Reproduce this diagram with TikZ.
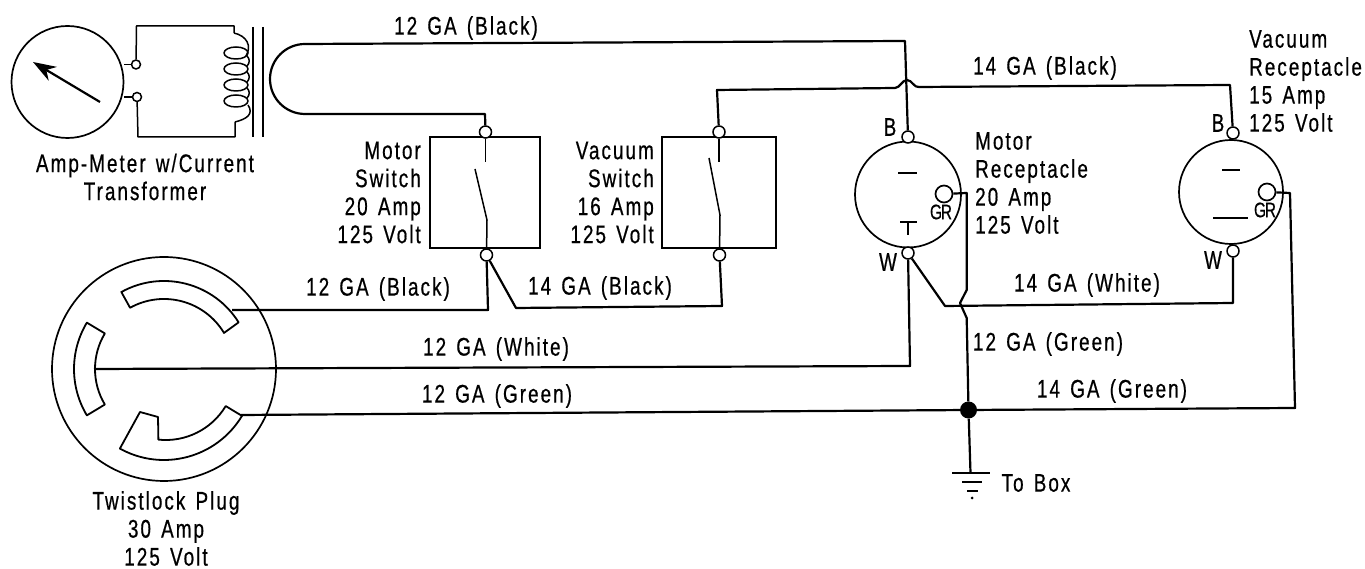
\documentclass[tikz,border=0pt]{standalone}
\usepackage{fontspec}
\setmainfont{Liberation Sans}[FakeStretch=0.74,LetterSpace=8,WordSpace=1.4,FakeBold=0.6]
\usepackage{xcolor}
\usetikzlibrary{arrows.meta}

\tikzset{
    every node/.style={inner sep=0pt, font=\fontsize{25.5}{28}\selectfont},
    wire/.style={line width=2.2pt, line join=round},
    thinwire/.style={line width=1.5pt, line join=round},
    terminal/.style={circle, draw, fill=white, line width=1.5pt, minimum size=12pt},
    smallterminal/.style={terminal, minimum size=9pt},
    switchbox/.style={draw, line width=2.2pt, minimum height=111pt},
    receptacle/.style={circle, draw, line width=1.7pt},
    groundpin/.style={circle, draw, fill=white, line width=1.7pt, minimum size=17pt},
    grlabel/.style={font=\fontsize{21}{21}\selectfont\addfontfeatures{LetterSpace=-6}},
    slot/.style={line width=1.8pt, line join=round}
}

\begin{document}
\begin{tikzpicture}[x=1pt, y=1pt]
    \useasboundingbox (0,0) rectangle (1365,569);

    % Amp meter
    \node[receptacle, minimum size=112pt] (meter) at (67.5,487) {};
    \coordinate (needletail) at (100,467);
    \coordinate (needletip) at (33,507);
    \draw[line width=2.2pt, -{Stealth[length=23pt, width=16pt]}] (needletail) -- (needletip);
    \node[smallterminal] (ta) at (136,504.5) {};
    \node[smallterminal] (tb) at (137,472) {};
    \draw[thinwire] (meter.east |- ta) -- (ta);
    \draw[thinwire] (meter.east |- tb) -- (tb);

    % Current transformer
    \coordinate (ctop) at (234,536);
    \coordinate (cbot) at (235,447);
    \draw[thinwire] (ta) -- (136.5,543) -- (234,543) -- (ctop);
    \draw[thinwire] (tb) -- (138,432) -- (235,432) -- (cbot);
    \foreach \yc in {516,500,484,468} {
        \draw[thinwire] (236,\yc) ellipse (12 and 6);
    }
    \draw[thinwire] (ctop) .. controls (247,533) and (252,523) .. (246,513);
    \foreach \yc in {516,500,484} {
        \draw[thinwire] (247,\yc-3) .. controls (250,\yc-6) and (250,\yc-10) .. (247,\yc-13);
    }
    \draw[thinwire] (cbot) .. controls (247,450) and (254,455) .. (248,464);
    \draw[thinwire] (253,542) -- (253,432);
    \draw[thinwire] (263,542) -- (263,432);
    \node[align=center] (metertext) at (145,392) {Amp-Meter w/Current\\Transformer};

    % Motor switch
    \node[switchbox, minimum width=110pt] (swm) at (485,376.5) {};
    \node[terminal] (swmtop) at (485.5,437) {};
    \node[terminal] (swmbot) at (486.5,314) {};
    \draw[thinwire] (swmtop) -- (485.5,407);
    \draw[thinwire] (475,400) -- (487,349) -- (swmbot);
    \node[align=right, anchor=east] (swmtext) at (421,376.5) {Motor\\Switch\\20 Amp\\125 Volt};

    % Vacuum switch
    \node[switchbox, minimum width=114pt] (swv) at (719,376.5) {};
    \node[terminal] (swvtop) at (719,437) {};
    \node[terminal] (swvbot) at (719.5,314) {};
    \draw[thinwire] (swvtop) -- (719,407);
    \draw[thinwire] (709,411) -- (720,354) -- (swvbot);
    \node[align=right, anchor=east] (swvtext) at (654,376.5) {Vacuum\\Switch\\16 Amp\\125 Volt};

    % Motor receptacle
    \node[receptacle, minimum size=106pt] (rm) at (908,374.5) {};
    \node[terminal] (rmb) at (908,432) {};
    \node[terminal] (rmw) at (908,316) {};
    \node[groundpin] (rmg) at (944,375) {};
    \draw[wire] (898,396) -- (917,396);
    \draw[wire] (900,347) -- (917,347);
    \draw[wire] (908,347) -- (908,334);
    \node[grlabel] (rmgr) at (941,357) {GR};
    \node (rmbl) at (890,442) {B};
    \node (rmwl) at (888,307) {W};
    \node[align=left, anchor=west] (rmtext) at (975,386) {Motor\\Receptacle\\20 Amp\\125 Volt};

    % Vacuum receptacle
    \node[receptacle, minimum size=104pt] (rv) at (1231,377) {};
    \node[terminal] (rvb) at (1233,436) {};
    \node[terminal] (rvw) at (1233,318) {};
    \node[groundpin] (rvg) at (1267,377) {};
    \draw[wire] (1222,399) -- (1240,399);
    \draw[wire] (1213,351) -- (1248,351);
    \node[grlabel] (rvgr) at (1265,359) {GR};
    \node (rvbl) at (1218,446) {B};
    \node (rvwl) at (1213,309) {W};
    \node[align=left, anchor=west] (rvtext) at (1249,488) {Vacuum\\Receptacle\\15 Amp\\125 Volt};

    % Twistlock plug
    \node[receptacle, minimum size=224pt] (plug) at (164,200) {};
    \draw[slot] ([shift={(119:88)}]plug.center) arc[start angle=119, end angle=32, radius=88]
        -- ([shift={(31:70)}]plug.center) arc[start angle=31, end angle=119, radius=70] -- cycle;
    \draw[slot] ([shift={(149:90)}]plug.center) arc[start angle=149, end angle=211, radius=90]
        -- ([shift={(211:69)}]plug.center) arc[start angle=211, end angle=149, radius=69] -- cycle;
    \draw[slot] ([shift={(-119:91)}]plug.center) arc[start angle=-119, end angle=-31, radius=91]
        -- ([shift={(-31:72)}]plug.center) arc[start angle=-31, end angle=-96, radius=70]
        -- (158,152) -- (140,157) -- cycle;
    \node[align=center] (plugtext) at (166,40.5) {Twistlock Plug\\30 Amp\\125 Volt};

    % Named wire ends
    \coordinate (plugblack) at (232,259);
    \coordinate (plugwhite) at (94,200);
    \coordinate (pluggreen) at (241,154);
    \node[circle, fill, minimum size=17pt] (junction) at (968.5,159) {};

    % Black wires
    \draw[wire] (swmtop) -- (485,455) -- (305,455)
        arc[start angle=270, end angle=90, radius=35] -- (905,528) -- (rmb);
    \draw[wire] (swvtop) -- (717,479) -- (895,481) .. controls (900,481) and (902,489) .. (907,489)
        .. controls (912,489) and (914,481) .. (919,482) -- (1230,484) -- (rvb);
    \draw[wire] (plugblack) -- (488,259) -- (swmbot);
    \draw[wire] (swmbot) -- (516,261) -- (722,263) -- (swvbot);

    % White wires
    \draw[wire] (plugwhite) -- (910,203) -- (rmw);
    \draw[wire] (rmw) -- (945,263) -- (1233,266) -- (rvw);

    % Green wires
    \draw[wire] (pluggreen) -- (junction);
    \draw[wire] (rmg) -- (966.7,376) -- (966.7,279) -- (960,266) -- (966.7,251) -- (junction);
    \draw[wire] (rvg) -- (1290,376) -- (1295,161) -- (junction);

    % Ground
    \coordinate (gnd) at (970.5,96);
    \draw[wire] (junction) -- (gnd);
    \draw[wire] (952,96) -- (990,96);
    \draw[wire] (962,87) -- (982,87);
    \draw[wire] (967,78) -- (978,78);
    \fill (972,71) circle (1.5);
    \node (gndtext) at (1036,86) {To Box};

    % Wire labels
    \node (la) at (466,541) {12 GA (Black)};
    \node (lb) at (1045,501) {14 GA (Black)};
    \node (lc) at (378,280) {12 GA (Black)};
    \node (ld) at (600,281) {14 GA (Black)};
    \node (le) at (1087,284) {14 GA (White)};
    \node (lf) at (496,220) {12 GA (White)};
    \node (lg) at (1048,225) {12 GA (Green)};
    \node (lh) at (497,173) {12 GA (Green)};
    \node (li) at (1112,178) {14 GA (Green)};
\end{tikzpicture}
\end{document}
